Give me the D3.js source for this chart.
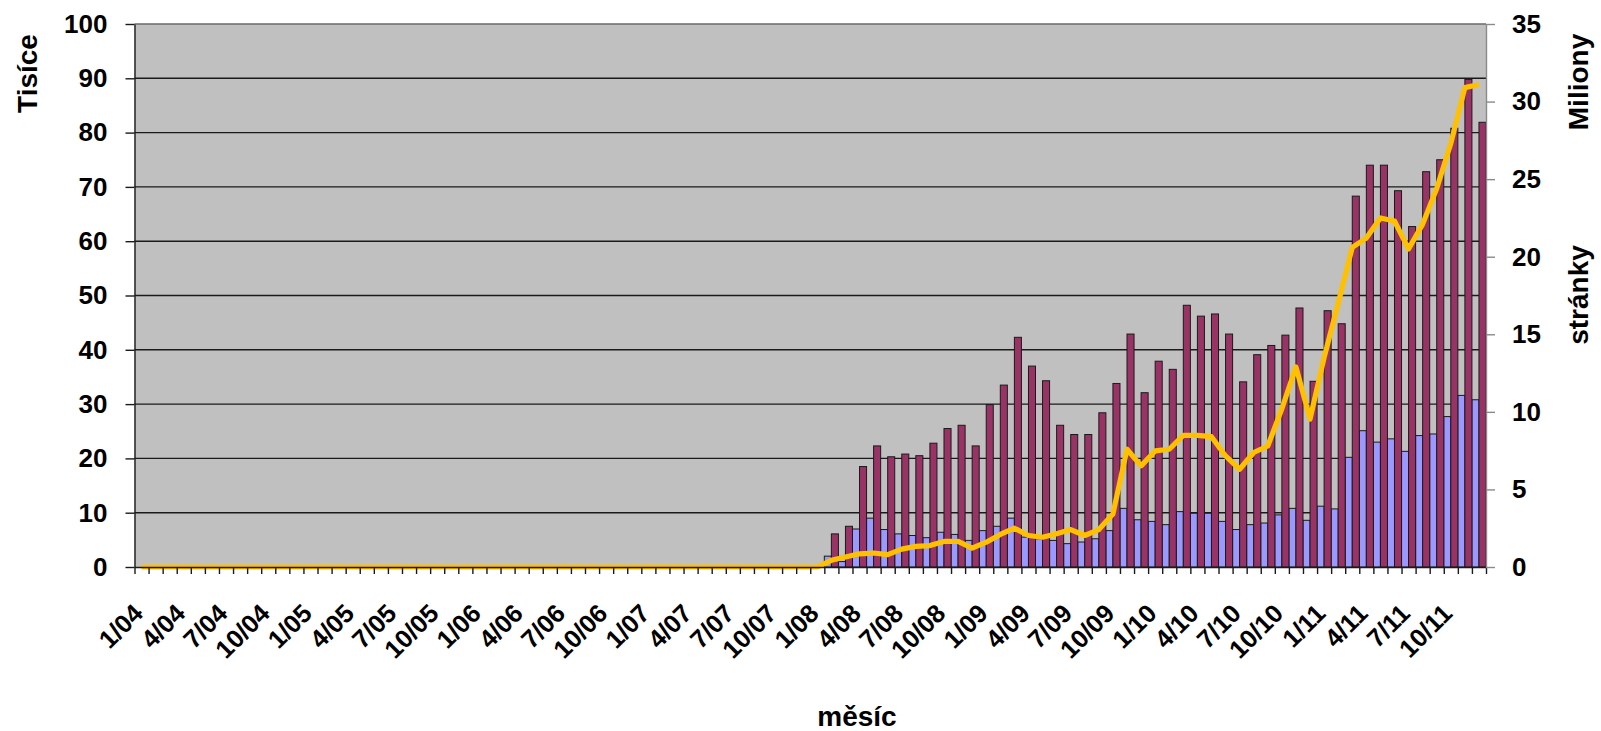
<!DOCTYPE html>
<html>
<head>
<meta charset="utf-8">
<script src="https://cdn.jsdelivr.net/npm/d3@7"></script>
<style>
  html, body { margin: 0; padding: 0; background: #fff; }
  #stage { width: 1601px; height: 731px; }
  text { font-family: "Liberation Sans", Arial, sans-serif; font-weight: bold; }
</style>
</head>
<body>
<div id="stage"></div>
<script>
// months 1/04 .. 12/11, index 0..95
const months = d3.range(96).map((i) => `${(i % 12) + 1}/${String(4 + Math.floor(i / 12)).padStart(2, "0")}`);

// shown x labels (every third month)
const tickLabels = [
  "1/04", "4/04", "7/04", "10/04", "1/05", "4/05", "7/05", "10/05",
  "1/06", "4/06", "7/06", "10/06", "1/07", "4/07", "7/07", "10/07",
  "1/08", "4/08", "7/08", "10/08", "1/09", "4/09", "7/09", "10/09",
  "1/10", "4/10", "7/10", "10/10", "1/11", "4/11", "7/11", "10/11",
];

// bars start at 2/08
const firstBarMonth = "2/08";

// blue bars (tisíce)
const blueValues = [
  2.0, 1.0, 7.0, 9.0, 6.9, 6.1, 5.8, 5.4, 6.4, 6.0, 4.9,
  6.7, 7.5, 9.0, 5.5, 5.2, 4.9, 4.3, 4.6, 5.2, 6.7, 10.8, 8.7,
  8.4, 7.8, 10.2, 9.9, 9.9, 8.4, 6.9, 7.8, 8.1, 9.6, 10.8, 8.6,
  11.2, 10.7, 20.2, 25.1, 23.0, 23.6, 21.3, 24.2, 24.5, 27.7, 31.6, 30.8,
];

// maroon bars (tisíce)
const maroonValues = [
  6.1, 7.5, 18.5, 22.3, 20.3, 20.8, 20.5, 22.8, 25.5, 26.1, 22.3,
  29.9, 33.5, 42.3, 37.0, 34.3, 26.1, 24.4, 24.4, 28.4, 33.8, 42.9, 32.1,
  37.9, 36.4, 48.2, 46.2, 46.6, 42.9, 34.1, 39.1, 40.8, 42.7, 47.7, 34.2,
  47.2, 44.8, 68.3, 74.0, 74.0, 69.3, 62.7, 72.8, 75.0, 80.8, 89.8, 81.9,
];

// yellow line (miliony stránek), every month from 1/04
const pageValues = [
  0, 0, 0, 0, 0, 0, 0, 0, 0, 0, 0, 0,
  0, 0, 0, 0, 0, 0, 0, 0, 0, 0, 0, 0,
  0, 0, 0, 0, 0, 0, 0, 0, 0, 0, 0, 0,
  0, 0, 0, 0, 0, 0, 0, 0, 0, 0, 0, 0,
  0, 0.43, 0.64, 0.85, 0.9, 0.8, 1.15, 1.33, 1.38, 1.65, 1.65, 1.22,
  1.6, 2.1, 2.5, 2.03, 1.92, 2.14, 2.41, 2.03, 2.41, 3.42, 7.59, 6.52,
  7.48, 7.59, 8.48, 8.48, 8.4, 7.16, 6.3, 7.38, 7.8, 10.2, 12.9, 9.53,
  13.5, 17.0, 20.6, 21.2, 22.5, 22.3, 20.5, 22.1, 24.4, 27.3, 30.9, 31.1,
];

const leftTicks = [0, 10, 20, 30, 40, 50, 60, 70, 80, 90, 100];
const rightTicks = [0, 5, 10, 15, 20, 25, 30, 35];

const width = 1601;
const height = 731;
const margin = { top: 24, right: 115, bottom: 164, left: 134.5 };
const x0 = margin.left;
const x1 = width - margin.right;
const yBase = height - margin.bottom;

const svg = d3
  .select("#stage")
  .append("svg")
  .attr("width", width)
  .attr("height", height)
  .attr("viewBox", `0 0 ${width} ${height}`);

const x = d3.scaleBand().domain(months).range([x0, x1]).padding(0);
const xEdge = d3.scaleLinear().domain([0, months.length]).range([x0, x1]);
const yLeft = d3.scaleLinear().domain([0, 100]).range([yBase, margin.top]);
const yRight = d3.scaleLinear().domain([0, 35]).range([yBase, margin.top]);
const bw = x.bandwidth();

// plot background
svg
  .append("rect")
  .attr("x", x0)
  .attr("y", margin.top)
  .attr("width", x1 - x0)
  .attr("height", yBase - margin.top)
  .attr("fill", "#c0c0c0");

// gridlines
svg
  .append("g")
  .selectAll("line")
  .data(leftTicks.filter((v) => v > 0))
  .join("line")
  .attr("x1", x0)
  .attr("x2", x1)
  .attr("y1", (d) => yLeft(d))
  .attr("y2", (d) => yLeft(d))
  .attr("stroke", (d) => (d === 100 ? "#6a6a6a" : "#1a1a1a"))
  .attr("stroke-width", 1.4);

const start = months.indexOf(firstBarMonth);
const blue = blueValues.map((v, i) => ({ m: months[start + i], v }));
const maroon = maroonValues.map((v, i) => ({ m: months[start + i], v }));

svg
  .append("g")
  .selectAll("rect")
  .data(blue)
  .join("rect")
  .attr("x", (d) => x(d.m))
  .attr("y", (d) => yLeft(d.v))
  .attr("width", bw / 2)
  .attr("height", (d) => yBase - yLeft(d.v))
  .attr("fill", "#9999ff")
  .attr("stroke", "#1a1a1a")
  .attr("stroke-width", 1);

svg
  .append("g")
  .selectAll("rect")
  .data(maroon)
  .join("rect")
  .attr("x", (d) => x(d.m) + bw / 2)
  .attr("y", (d) => yLeft(d.v))
  .attr("width", bw / 2)
  .attr("height", (d) => yBase - yLeft(d.v))
  .attr("fill", "#993366")
  .attr("stroke", "#1a1a1a")
  .attr("stroke-width", 1);

// pages line
const line = d3
  .line()
  .x((d, i) => x(months[i]) + bw / 2)
  .y((d) => yRight(d));

svg
  .append("path")
  .datum(pageValues)
  .attr("d", line)
  .attr("fill", "none")
  .attr("stroke", "#ffc000")
  .attr("stroke-width", 5.2)
  .attr("stroke-linejoin", "round");

// x axis: ticks at month boundaries
svg
  .append("g")
  .attr("transform", `translate(0,${yBase})`)
  .call(
    d3.axisBottom(xEdge)
      .tickValues(d3.range(months.length + 1))
      .tickFormat("")
      .tickSize(7)
      .tickSizeOuter(0)
  )
  .call((g) => g.selectAll("path, line").attr("stroke", "#1a1a1a").attr("stroke-width", 1.4));

svg
  .append("g")
  .selectAll("text")
  .data(tickLabels)
  .join("text")
  .attr("transform", (d) => `translate(${x(d) + bw / 2 + 3},615) rotate(-45)`)
  .attr("text-anchor", "end")
  .attr("font-size", "25.5px")
  .attr("fill", "#000")
  .text((d) => d);

// left axis
svg
  .append("g")
  .attr("transform", `translate(${x0},0)`)
  .call(d3.axisLeft(yLeft).tickValues(leftTicks).tickSize(9).tickPadding(18).tickSizeOuter(0))
  .call((g) => g.selectAll("path, line").attr("stroke", "#1a1a1a").attr("stroke-width", 1.4))
  .call((g) =>
    g.selectAll("text")
      .attr("font-size", "26px")
      .attr("font-family", '"Liberation Sans", Arial, sans-serif')
      .attr("font-weight", "bold")
      .attr("fill", "#000")
  );

// right axis
svg
  .append("g")
  .attr("transform", `translate(${x1},0)`)
  .call(d3.axisRight(yRight).tickValues(rightTicks).tickSize(9).tickPadding(17).tickSizeOuter(0))
  .call((g) => g.selectAll("path, line").attr("stroke", "#8a8a8a").attr("stroke-width", 1.4))
  .call((g) =>
    g.selectAll("text")
      .attr("font-size", "26px")
      .attr("font-family", '"Liberation Sans", Arial, sans-serif')
      .attr("font-weight", "bold")
      .attr("fill", "#000")
  );

// titles
svg
  .append("text")
  .attr("transform", "translate(36.5,73.5) rotate(-90)")
  .attr("text-anchor", "middle")
  .attr("font-size", "28px")
  .text("Tisíce");

svg
  .append("text")
  .attr("transform", "translate(1588,82) rotate(-90)")
  .attr("text-anchor", "middle")
  .attr("font-size", "28px")
  .text("Miliony");

svg
  .append("text")
  .attr("transform", "translate(1588,295) rotate(-90)")
  .attr("text-anchor", "middle")
  .attr("font-size", "28px")
  .text("stránky");

svg
  .append("text")
  .attr("x", 857)
  .attr("y", 726)
  .attr("text-anchor", "middle")
  .attr("font-size", "28px")
  .text("měsíc");
</script>
</body>
</html>
